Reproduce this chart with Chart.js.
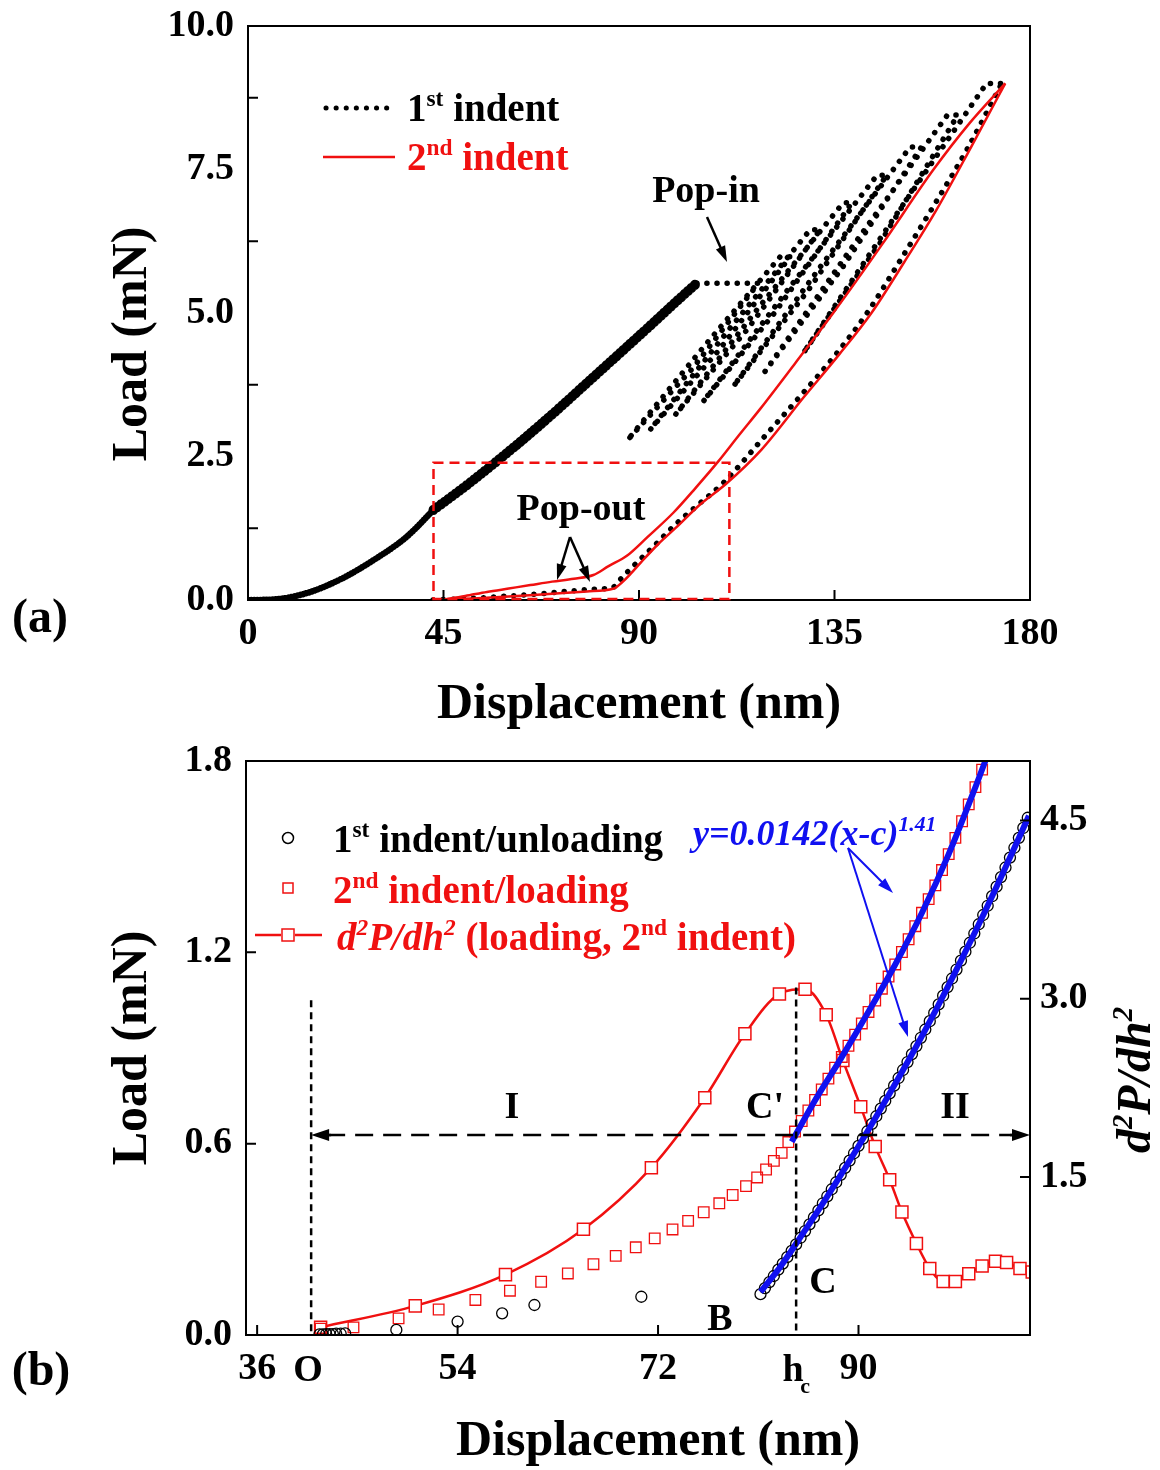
<!DOCTYPE html>
<html>
<head>
<meta charset="utf-8">
<script src="https://cdn.jsdelivr.net/npm/chart.js@4.4.1/dist/chart.umd.min.js"></script>
<style>
  body { margin: 0; background: #fff; width: 1160px; height: 1470px; position: relative; overflow: hidden; }
  .box { position: absolute; left: 0; width: 1160px; }
  #boxA { top: 0; height: 730px; }
  #boxB { top: 730px; height: 740px; }
</style>
</head>
<body>
<div class="box" id="boxA"><canvas id="chartA"></canvas></div>
<div class="box" id="boxB"><canvas id="chartB"></canvas></div>
<script>
// ---- panel (a): load vs displacement ----
const xTicksA = [0, 45, 90, 135, 180];
const yTicksA = [0, 2.5, 5, 7.5, 10];

// 1st indent, initial loading up to the pop-in (thin start, then the wide noisy band)
const loadX = [0, 6, 13.5, 21, 29, 36.5, 42.7];
const loadY = [0, 0.01, 0.12, 0.35, 0.70, 1.10, 1.57];
const bandX = [42.7, 50, 57, 64, 71, 78, 85.6, 93.3, 98.3, 100.2, 103.3];
const bandY = [1.57, 1.98, 2.40, 2.84, 3.30, 3.78, 4.30, 4.83, 5.18, 5.31, 5.52];

// 1st indent, pop-in plateau and partial unload / reload cycles
const cycX = [103.3, 117.5, 102.5, 87.3, 105, 122.5, 124.8, 108.5, 92.5, 111, 129.4, 131.7, 115, 98.3, 117.5, 137, 139,
              121.5, 104.7, 124.5, 144.8, 147, 129, 111.7, 132, 152.4, 155, 137, 119, 140, 161, 163.4, 145.5, 127.8, 149, 170, 173.5];
const cycY = [5.52, 5.52, 4.05, 2.78, 4.42, 5.98, 5.98, 4.36, 2.96, 4.74, 6.45, 6.45, 4.72, 3.22, 5.09, 6.92, 6.92,
              5.03, 3.45, 5.43, 7.4, 7.4, 5.40, 3.72, 5.83, 7.89, 7.89, 5.81, 3.98, 6.25, 8.45, 8.45, 6.22, 4.30, 6.69, 9.0, 9.0];

// 1st indent, final unloading
const unl1X = [42.6, 46, 51.8, 58, 64.2, 69, 74.8, 80, 84, 85.6, 87.5, 90.2, 94, 97.9, 103, 109.4, 119.5, 127, 135, 142.5, 150, 157.7, 165.5, 173.5];
const unl1Y = [0, 0.01, 0.03, 0.06, 0.09, 0.12, 0.16, 0.19, 0.22, 0.35, 0.5, 0.7, 0.98, 1.28, 1.62, 2.04, 2.9, 3.54, 4.25, 5.0, 5.9, 6.85, 7.85, 9.0];

// 2nd indent, loading and unloading
const ld2X = [44.4, 50, 55, 60, 65, 70, 75, 79.5, 83, 87.2, 92, 97.9, 103, 108.2, 113, 117.9, 126, 134.7, 146, 157.7, 166, 174.3];
const ld2Y = [0, 0.07, 0.14, 0.2, 0.26, 0.32, 0.37, 0.435, 0.59, 0.77, 1.1, 1.52, 1.95, 2.41, 2.87, 3.33, 4.13, 5.0, 6.2, 7.49, 8.3, 9.0];
const un2X = [44.4, 50, 60, 70, 78, 84.2, 86, 88, 90.5, 94.5, 98.5, 104, 110, 118.2, 128, 136, 143.5, 151, 158.5, 166.5, 174.3];
const un2Y = [0, 0.02, 0.06, 0.11, 0.15, 0.2, 0.3, 0.45, 0.66, 0.98, 1.26, 1.66, 2.02, 2.62, 3.54, 4.27, 5.0, 5.88, 6.8, 7.9, 9.0];

// ---- panel (b): zoom on the low-load region ----
const xTicksB = [36, 54, 72, 90];
const yTicksB = [0, 0.6, 1.2, 1.8];
const rTicksB = [1.5, 3.0, 4.5];

// 1st indent / unloading (open circles)
const circX = [41.6, 41.9, 42.2, 42.5, 42.8, 43.1, 43.5, 43.9, 48.5, 54.0, 58.0, 60.9, 70.5,
  81.2, 81.6, 82.0, 82.4, 82.8, 83.2, 83.6, 84.0, 84.4, 84.8, 85.2, 85.6, 86.0, 86.4, 86.8, 87.2, 87.6, 88.0, 88.4, 88.8,
  89.2, 89.6, 90.0, 90.4, 90.8, 91.2, 91.6, 92.0, 92.4, 92.8, 93.2, 93.6, 94.0, 94.4, 94.8, 95.2, 95.6, 96.0, 96.4, 96.8,
  97.2, 97.6, 98.0, 98.4, 98.8, 99.2, 99.6, 100.0, 100.4, 100.8, 101.2, 101.6, 102.0, 102.4, 102.8, 103.2, 103.6, 104.0,
  104.4, 104.8, 105.2];
const circY = [0.002, 0.002, 0.003, 0.003, 0.003, 0.004, 0.004, 0.005, 0.016, 0.042, 0.068, 0.094, 0.12,
  0.128, 0.147, 0.166, 0.185, 0.205, 0.224, 0.244, 0.264, 0.284, 0.305, 0.326, 0.347, 0.369, 0.391, 0.413, 0.435, 0.457, 0.479, 0.502, 0.524,
  0.547, 0.570, 0.593, 0.616, 0.639, 0.662, 0.686, 0.710, 0.734, 0.758, 0.782, 0.806, 0.831, 0.856, 0.881, 0.906, 0.932, 0.958, 0.984, 1.010,
  1.037, 1.064, 1.091, 1.118, 1.146, 1.174, 1.202, 1.230, 1.259, 1.288, 1.317, 1.346, 1.376, 1.406, 1.436, 1.466, 1.497, 1.528,
  1.559, 1.590, 1.622];

// 2nd indent / loading (open squares)
const sqX = [41.7, 44.65, 48.7, 52.3, 55.6, 58.7, 61.5, 63.9, 66.2, 68.2, 70.0, 71.7, 73.3, 74.7, 76.1, 77.5, 78.7, 79.9, 80.9,
  81.7, 82.4, 83.1, 83.7, 84.3, 84.9, 85.5, 86.1, 86.7, 87.3, 87.9, 88.5, 89.1, 89.7, 90.3, 90.9, 91.5, 92.1, 92.7, 93.3,
  93.9, 94.5, 95.1, 95.7, 96.3, 96.9, 97.5, 98.1, 98.7, 99.3, 99.9, 100.5, 101.1];
const sqY = [0.02, 0.024, 0.052, 0.08, 0.11, 0.139, 0.167, 0.193, 0.222, 0.248, 0.275, 0.303, 0.331, 0.358, 0.385, 0.413, 0.439, 0.467, 0.494,
  0.519, 0.546, 0.571, 0.605, 0.638, 0.671, 0.704, 0.737, 0.770, 0.804, 0.838, 0.872, 0.907, 0.942, 0.977, 1.013, 1.049, 1.086, 1.124, 1.162,
  1.201, 1.241, 1.282, 1.324, 1.367, 1.410, 1.458, 1.508, 1.559, 1.611, 1.664, 1.718, 1.773];

// power-law fits (blue)
const fitUX = [84.0, 86.0, 88.4, 91.0, 93.3, 95.7, 98.1, 100.5, 101.6];
const fitUY = [0.606, 0.73, 0.866, 1.02, 1.162, 1.324, 1.508, 1.718, 1.82];
const fitLX = [81.2, 83, 85, 87, 89, 91, 93, 95, 97, 99, 101, 103, 105.3];
const fitLY = [0.135, 0.215, 0.318, 0.424, 0.535, 0.65, 0.77, 0.893, 1.023, 1.16, 1.302, 1.451, 1.628];

// d2P/dh2 of the 2nd indent loading (right axis)
const d2X = [41.7, 50.2, 58.3, 65.3, 71.4, 76.2, 79.8, 82.9, 85.2, 87.1, 88.6, 90.2, 91.5, 92.8, 93.9, 95.2, 96.4, 97.6, 98.7, 99.9, 101.1, 102.3, 103.3, 104.5, 105.6];
const d2Y = [0.235, 0.415, 0.678, 1.059, 1.578, 2.167, 2.705, 3.04, 3.08, 2.865, 2.48, 2.09, 1.757, 1.477, 1.205, 0.94, 0.73, 0.62, 0.62, 0.686, 0.75, 0.79, 0.78, 0.73, 0.70];

const pts = (xs, ys) => xs.map((x, i) => ({ x, y: ys[i] }));

const RED = '#f01010';
const BLUE = '#1010f0';
const SERIF = '"Liberation Serif", "Times New Roman", serif';
const fnt = (size, italic) => (italic ? 'italic ' : '') + 'bold ' + size + 'px ' + SERIF;

// draw a run of text pieces: [text, kind], kind may contain 'sup', 'sub', 'i'
function rich(ctx, parts, x, y, size, color, align) {
  ctx.save();
  ctx.textAlign = 'left';
  ctx.textBaseline = 'alphabetic';
  const sz = k => (k.includes('sup') || k.includes('sub')) ? size * 0.6 : size;
  let w = 0;
  parts.forEach(([t, k = '']) => { ctx.font = fnt(sz(k), k.includes('i')); w += ctx.measureText(t).width; });
  let cx = align === 'center' ? x - w / 2 : x;
  ctx.fillStyle = color;
  parts.forEach(([t, k = '']) => {
    ctx.font = fnt(sz(k), k.includes('i'));
    const dy = k.includes('sup') ? -size * 0.38 : k.includes('sub') ? size * 0.25 : 0;
    ctx.fillText(t, cx, y + dy);
    cx += ctx.measureText(t).width;
  });
  ctx.restore();
}

function vrich(ctx, parts, x, y, size, color) {
  ctx.save();
  ctx.translate(x, y);
  ctx.rotate(-Math.PI / 2);
  rich(ctx, parts, 0, 0, size, color, 'center');
  ctx.restore();
}

function arrow(ctx, x0, y0, x1, y1, color, lw, hl, hw) {
  const a = Math.atan2(y1 - y0, x1 - x0);
  const c = Math.cos(a), s = Math.sin(a);
  ctx.save();
  ctx.strokeStyle = color; ctx.fillStyle = color; ctx.lineWidth = lw;
  ctx.beginPath(); ctx.moveTo(x0, y0); ctx.lineTo(x1 - hl * 0.8 * c, y1 - hl * 0.8 * s); ctx.stroke();
  ctx.beginPath();
  ctx.moveTo(x1, y1);
  ctx.lineTo(x1 - hl * c + hw * s, y1 - hl * s - hw * c);
  ctx.lineTo(x1 - hl * c - hw * s, y1 - hl * s + hw * c);
  ctx.closePath(); ctx.fill();
  ctx.restore();
}

function frame(ctx, a) {
  ctx.save();
  ctx.strokeStyle = '#000'; ctx.lineWidth = 2;
  ctx.strokeRect(a.left, a.top, a.right - a.left, a.bottom - a.top);
  ctx.restore();
}

function tickMarks(ctx, scale, values, side, a) {
  ctx.save();
  ctx.strokeStyle = '#000'; ctx.lineWidth = 2;
  ctx.beginPath();
  values.forEach(v => {
    const p = scale.getPixelForValue(v);
    if (side === 'bottom') { ctx.moveTo(p, a.bottom); ctx.lineTo(p, a.bottom - 10); }
    if (side === 'left') { ctx.moveTo(a.left, p); ctx.lineTo(a.left + 10, p); }
    if (side === 'right') { ctx.moveTo(a.right, p); ctx.lineTo(a.right - 10, p); }
  });
  ctx.stroke();
  ctx.restore();
}

// keep the plot box fixed: no extra room for edge tick labels
const noEdgePad = s => { s.paddingTop = 0; s.paddingBottom = 0; s.paddingLeft = 0; s.paddingRight = 0; };

const tickFont = { family: SERIF, size: 38, weight: 'bold' };

const decorA = {
  id: 'decorA',
  afterDraw(chart) {
    const ctx = chart.ctx, a = chart.chartArea;
    const xs = chart.scales.x, ys = chart.scales.y;
    frame(ctx, a);
    tickMarks(ctx, xs, [45, 90, 135], 'bottom', a);
    tickMarks(ctx, ys, [1.25, 3.75, 6.25, 8.75], 'left', a);

    // zoom box
    ctx.save();
    ctx.strokeStyle = RED; ctx.lineWidth = 2.5; ctx.setLineDash([10, 6]);
    const bx0 = xs.getPixelForValue(42.7), bx1 = xs.getPixelForValue(110.8);
    const by0 = ys.getPixelForValue(2.39), by1 = ys.getPixelForValue(0);
    ctx.strokeRect(bx0, by0, bx1 - bx0, by1 - by0 - 1);
    ctx.restore();

    // legend
    ctx.save();
    ctx.strokeStyle = '#000'; ctx.lineWidth = 5; ctx.lineCap = 'round'; ctx.setLineDash([0.1, 10]);
    ctx.beginPath(); ctx.moveTo(326, 108); ctx.lineTo(394, 108); ctx.stroke();
    ctx.setLineDash([]); ctx.lineCap = 'butt'; ctx.strokeStyle = RED; ctx.lineWidth = 2.5;
    ctx.beginPath(); ctx.moveTo(323, 157); ctx.lineTo(395, 157); ctx.stroke();
    ctx.restore();
    rich(ctx, [['1'], ['st', 'sup'], [' indent']], 407, 121, 39, '#000');
    rich(ctx, [['2'], ['nd', 'sup'], [' indent']], 407, 170, 39, RED);

    // pop-in / pop-out notes
    rich(ctx, [['Pop-in']], 706, 202, 38, '#000', 'center');
    arrow(ctx, 707, 217, 727, 262, '#000', 2.5, 16, 5);
    rich(ctx, [['Pop-out']], 581, 520, 38, '#000', 'center');
    arrow(ctx, 570, 537, 557, 580, '#000', 2.5, 16, 5);
    arrow(ctx, 570, 537, 590, 582, '#000', 2.5, 16, 5);

    // axis titles and panel tag
    rich(ctx, [['Displacement (nm)']], (a.left + a.right) / 2, 718, 50, '#000', 'center');
    vrich(ctx, [['Load (mN)']], 146, 344, 50, '#000');
    rich(ctx, [['(a)']], 40, 632, 48, '#000', 'center');
  }
};

new Chart(document.getElementById('chartA'), {
  type: 'scatter',
  data: {
    datasets: [
      { label: '2nd indent loading', data: pts(ld2X, ld2Y), showLine: true, borderColor: RED, borderWidth: 2.5,
        pointRadius: 0, cubicInterpolationMode: 'monotone', order: 1 },
      { label: '2nd indent unloading', data: pts(un2X, un2Y), showLine: true, borderColor: RED, borderWidth: 2.5,
        pointRadius: 0, cubicInterpolationMode: 'monotone', order: 2 },
      { label: '1st indent loading', data: pts(loadX, loadY), showLine: true, borderColor: '#000', borderWidth: 6.5,
        borderDash: [0.1, 3], borderCapStyle: 'round', pointRadius: 0, cubicInterpolationMode: 'monotone', order: 3 },
      { label: '1st indent loading band', data: pts(bandX, bandY), showLine: true, borderColor: '#000', borderWidth: 10,
        borderDash: [0.1, 4.5], borderCapStyle: 'round', pointRadius: 0, cubicInterpolationMode: 'monotone', order: 3 },
      { label: '1st indent cycles', data: pts(cycX, cycY), showLine: true, borderColor: '#000', borderWidth: 5.5,
        borderDash: [0.1, 10], borderCapStyle: 'round', pointRadius: 0, tension: 0, order: 4 },
      { label: '1st indent unloading', data: pts(unl1X, unl1Y), showLine: true, borderColor: '#000', borderWidth: 5.5,
        borderDash: [0.1, 10], borderCapStyle: 'round', pointRadius: 0, cubicInterpolationMode: 'monotone', order: 5 }
    ]
  },
  options: {
    responsive: true,
    maintainAspectRatio: false,
    animation: false,
    layout: { padding: { left: 0, right: 130, top: 26, bottom: 0 } },
    plugins: { legend: { display: false }, tooltip: { enabled: false } },
    scales: {
      x: {
        type: 'linear', min: 0, max: 180,
        afterBuildTicks: s => { s.ticks = xTicksA.map(v => ({ value: v })); },
        afterFit: s => { s.height = 130; noEdgePad(s); },
        grid: { display: false, drawTicks: false }, border: { display: false },
        ticks: { font: tickFont, color: '#000', padding: 11, autoSkip: false, maxRotation: 0 }
      },
      y: {
        type: 'linear', min: 0, max: 10,
        afterBuildTicks: s => { s.ticks = yTicksA.map(v => ({ value: v })); },
        afterFit: s => { s.width = 248; noEdgePad(s); },
        grid: { display: false, drawTicks: false }, border: { display: false },
        ticks: { font: tickFont, color: '#000', padding: 14, callback: v => v.toFixed(1) }
      }
    }
  },
  plugins: [decorA]
});

const decorB = {
  id: 'decorB',
  afterDraw(chart) {
    const ctx = chart.ctx, a = chart.chartArea;
    const xs = chart.scales.x, ys = chart.scales.y, rs = chart.scales.y2;
    frame(ctx, a);
    tickMarks(ctx, xs, xTicksB, 'bottom', a);
    tickMarks(ctx, ys, [0.6, 1.2], 'left', a);
    tickMarks(ctx, rs, rTicksB, 'right', a);

    // guide lines at O and h_c
    const xO = xs.getPixelForValue(40.85), xH = xs.getPixelForValue(84.4);
    ctx.save();
    ctx.strokeStyle = '#000'; ctx.lineWidth = 2.5; ctx.setLineDash([7, 5]);
    ctx.beginPath();
    ctx.moveTo(xO, ys.getPixelForValue(1.05)); ctx.lineTo(xO, a.bottom);
    ctx.moveTo(xH, ys.getPixelForValue(1.09)); ctx.lineTo(xH, a.bottom);
    ctx.stroke();
    const yA = ys.getPixelForValue(0.627);
    ctx.setLineDash([18, 10]);
    ctx.beginPath(); ctx.moveTo(xO + 16, yA); ctx.lineTo(a.right - 16, yA); ctx.stroke();
    ctx.restore();
    arrow(ctx, xO + 20, yA, xO, yA, '#000', 2.5, 18, 6);
    arrow(ctx, a.right - 20, yA, a.right, yA, '#000', 2.5, 18, 6);

    // region and point labels
    rich(ctx, [['I']], 512, 388, 38, '#000', 'center');
    rich(ctx, [["C'"]], 765, 388, 38, '#000', 'center');
    rich(ctx, [['II']], 955, 388, 38, '#000', 'center');
    rich(ctx, [['C']], 823, 563, 38, '#000', 'center');
    rich(ctx, [['B']], 720, 600, 38, '#000', 'center');

    // fit formula and arrows
    rich(ctx, [['y=0.0142(x-c)', 'i'], ['1.41', 'isup']], 693, 115, 36, BLUE);
    arrow(ctx, 848, 118, 893, 163, BLUE, 2, 16, 5);
    arrow(ctx, 848, 118, 908, 307, BLUE, 2, 16, 5);

    // legend
    ctx.save();
    ctx.lineWidth = 1.5;
    ctx.strokeStyle = '#000';
    ctx.beginPath(); ctx.arc(288, 108, 5.5, 0, Math.PI * 2); ctx.stroke();
    ctx.strokeStyle = RED;
    ctx.strokeRect(283, 153, 10, 10);
    ctx.lineWidth = 2.5;
    ctx.beginPath(); ctx.moveTo(255, 205); ctx.lineTo(281, 205); ctx.moveTo(295, 205); ctx.lineTo(322, 205); ctx.stroke();
    ctx.lineWidth = 1.5;
    ctx.strokeRect(282, 199, 12, 12);
    ctx.restore();
    rich(ctx, [['1'], ['st', 'sup'], [' indent/unloading']], 333, 122, 39, '#000');
    rich(ctx, [['2'], ['nd', 'sup'], [' indent/loading']], 333, 173, 39, RED);
    rich(ctx, [['d', 'i'], ['2', 'isup'], ['P/dh', 'i'], ['2', 'isup'], [' (loading, 2'], ['nd', 'sup'], [' indent)']], 337, 220, 39, RED);

    // extra x labels
    ctx.save();
    ctx.fillStyle = '#000'; ctx.font = fnt(38); ctx.textAlign = 'center'; ctx.textBaseline = 'alphabetic';
    ctx.fillText('O', xO - 3, a.bottom + 46);
    ctx.fillText('h', xH - 3, a.bottom + 46);
    ctx.font = fnt(22);
    ctx.fillText('c', xH + 9, a.bottom + 58);
    ctx.restore();

    // axis titles and panel tag
    rich(ctx, [['Displacement (nm)']], 658, 725, 50, '#000', 'center');
    vrich(ctx, [['Load (mN)']], 146, (a.top + a.bottom) / 2, 50, '#000');
    vrich(ctx, [['d', 'i'], ['2', 'isup'], ['P/dh', 'i'], ['2', 'isup']], 1150, 350, 48, '#000');
    rich(ctx, [['(b)']], 41, 655, 48, '#000', 'center');
  }
};

new Chart(document.getElementById('chartB'), {
  type: 'scatter',
  data: {
    datasets: [
      { label: 'fit 2nd', data: pts(fitUX, fitUY), showLine: true, borderColor: BLUE, borderWidth: 6,
        pointRadius: 0, cubicInterpolationMode: 'monotone', order: 1 },
      { label: 'fit 1st', data: pts(fitLX, fitLY), showLine: true, borderColor: BLUE, borderWidth: 6,
        pointRadius: 0, cubicInterpolationMode: 'monotone', order: 2 },
      { label: '1st indent/unloading', data: pts(circX, circY), showLine: false, pointStyle: 'circle', pointRadius: 5.5,
        borderColor: '#000', borderWidth: 1.3, backgroundColor: 'rgba(0,0,0,0)', order: 3 },
      { label: '2nd indent/loading', data: pts(sqX, sqY), showLine: false, pointStyle: 'rect', pointRadius: 7.5,
        borderColor: RED, borderWidth: 1.3, backgroundColor: 'rgba(0,0,0,0)', order: 4 },
      { label: 'd2P/dh2', data: pts(d2X, d2Y), yAxisID: 'y2', showLine: true, borderColor: RED, borderWidth: 2.5,
        cubicInterpolationMode: 'monotone', pointStyle: 'rect', pointRadius: 8.5, pointBorderWidth: 1.5,
        pointBorderColor: RED, pointBackgroundColor: '#fff', order: 5 }
    ]
  },
  options: {
    responsive: true,
    maintainAspectRatio: false,
    animation: false,
    layout: { padding: { left: 0, right: 0, top: 31, bottom: 0 } },
    plugins: { legend: { display: false }, tooltip: { enabled: false } },
    scales: {
      x: {
        type: 'linear', min: 35, max: 105.4,
        afterBuildTicks: s => { s.ticks = xTicksB.map(v => ({ value: v })); },
        afterFit: s => { s.height = 135; noEdgePad(s); },
        grid: { display: false, drawTicks: false }, border: { display: false },
        ticks: { font: tickFont, color: '#000', padding: 11, autoSkip: false, maxRotation: 0 }
      },
      y: {
        type: 'linear', position: 'left', min: 0, max: 1.8,
        afterBuildTicks: s => { s.ticks = yTicksB.map(v => ({ value: v })); },
        afterFit: s => { s.width = 246; noEdgePad(s); },
        grid: { display: false, drawTicks: false }, border: { display: false },
        ticks: { font: tickFont, color: '#000', padding: 14, callback: v => v.toFixed(1) }
      },
      y2: {
        type: 'linear', position: 'right', min: 0.17, max: 5.0,
        afterBuildTicks: s => { s.ticks = rTicksB.map(v => ({ value: v })); },
        afterFit: s => { s.width = 130; noEdgePad(s); },
        grid: { display: false, drawTicks: false }, border: { display: false },
        ticks: { font: tickFont, color: '#000', padding: 10, callback: v => v.toFixed(1) }
      }
    }
  },
  plugins: [decorB]
});
</script>
</body>
</html>
